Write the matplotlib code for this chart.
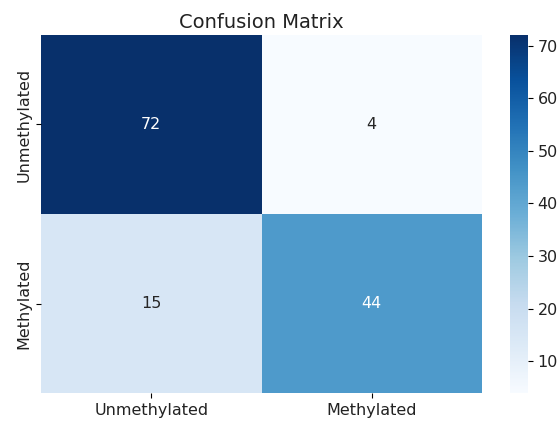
import numpy as np
import matplotlib
matplotlib.use("Agg")
import matplotlib.pyplot as plt
import seaborn as sns

# confusion matrix counts (rows = true, cols = predicted)
labels = ["Unmethylated", "Methylated"]
cm = np.array([[72, 4],
               [15, 44]])

W, H = 559, 423
fig = plt.figure(figsize=(W / 100, H / 100), dpi=100)
ax = fig.add_axes([41 / W, 1 - 393 / H, (482 - 41) / W, (393 - 35) / H])
cax = fig.add_axes([510 / W, 1 - 393 / H, (528 - 510) / W, (393 - 35) / H])

sns.heatmap(cm, annot=True, fmt="d", cmap="Blues", ax=ax, cbar_ax=cax,
            xticklabels=labels, yticklabels=labels,
            annot_kws={"fontsize": 11.5})
ax.set_title("Confusion Matrix", fontsize=14, color="#222222", pad=5)
ax.tick_params(labelsize=11.5, labelcolor="#222222")
cax.tick_params(labelsize=11.5, labelcolor="#222222")
cax.set_yticks([10, 20, 30, 40, 50, 60, 70])

fig.savefig("out.png", dpi=100)
